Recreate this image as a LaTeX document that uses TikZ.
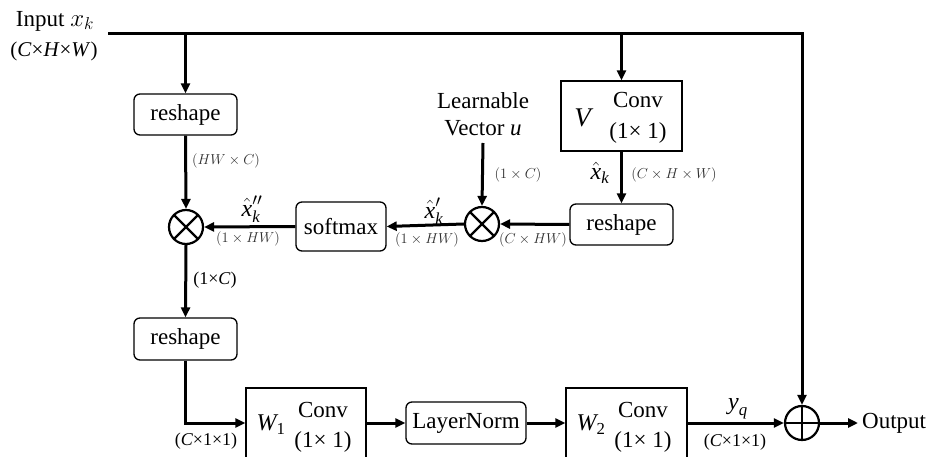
\documentclass[tikz,border=0pt]{standalone}
\usepackage{amsmath}
\usepackage{fontspec}
\setmainfont{Liberation Serif}
\usetikzlibrary{arrows.meta}
\newcommand\ti[1]{\text{\itshape #1}}
\tikzset{
  txt/.style={font=\fontsize{23}{27}\selectfont, inner sep=0pt},
  rbox/.style={draw, line width=1.3pt, rounded corners=6pt, inner sep=0pt, font=\fontsize{23}{27}\selectfont},
  sbox/.style={draw, line width=1.3pt, inner sep=0pt, minimum width=121pt, minimum height=70pt},
  gl/.style={font=\fontsize{14}{16}\selectfont, text=black!82, inner sep=0pt},
  bl/.style={font=\fontsize{18}{20}\selectfont, inner sep=0pt},
  ml/.style={font=\fontsize{24}{28}\selectfont, inner sep=0pt},
  otimes/.style={circle, draw, line width=2.2pt, minimum size=34pt, inner sep=0pt,
    path picture={\draw[line width=2.4pt] (path picture bounding box.north west)--(path picture bounding box.south east)
      (path picture bounding box.north east)--(path picture bounding box.south west);}},
  oplus/.style={circle, draw, line width=2.2pt, minimum size=34pt, inner sep=0pt,
    path picture={\draw[line width=2.4pt] (path picture bounding box.north)--(path picture bounding box.south)
      (path picture bounding box.east)--(path picture bounding box.west);}},
  conn/.style={line width=3pt, -{Triangle[length=10pt,width=9pt]}}
}
\begin{document}
\begin{tikzpicture}[x=1pt,y=-1pt]
\clip (0,0) rectangle (935,457);
\fill[white] (0,0) rectangle (935,457);

% input
\node[txt] (inlab) at (55,21) {Input $x_k$};
\node[bl, font=\fontsize{21}{23}\selectfont] (insz) at (54,51) {(\textit{C}×\textit{H}×\textit{W})};
\coordinate (in) at (108,34);

% nodes
\node[rbox, minimum width=103pt, minimum height=41pt] (r1) at (185.5,114.5) {reshape};
\node[sbox] (V) at (621.5,116) {};
\node[font=\fontsize{27}{30}\selectfont, inner sep=0pt] (Vl) at (584,118) {\textit{V}};
\node[txt] (Vc1) at (638,100) {Conv};
\node[txt] (Vc2) at (638,133) {(1× 1)};
\node[rbox, minimum width=103pt, minimum height=41pt] (r2) at (621.5,224.5) {reshape};
\node[otimes] (o2) at (482,224) {};
\node[rbox, minimum width=90pt, minimum height=49pt] (sm) at (341,226.5) {softmax};
\node[otimes] (o1) at (186,227) {};
\node[txt, align=center] (u) at (483,114) {Learnable\\Vector \textit{u}};
\coordinate (ubot) at (483,143);
\node[rbox, minimum width=103pt, minimum height=42pt] (r3) at (185.5,339) {reshape};
\node[sbox, minimum width=120pt] (W1) at (306,423) {};
\node[ml] (W1l) at (271,425) {$\ti{W}_{\text{1}}$};
\node[txt] (W1c1) at (323,410) {Conv};
\node[txt] (W1c2) at (323,442) {(1× 1)};
\node[rbox, minimum width=120pt, minimum height=42pt] (ln) at (466,423) {LayerNorm};
\node[sbox] (W2) at (626.5,423) {};
\node[ml] (W2l) at (591,425) {$\ti{W}_{\text{2}}$};
\node[txt] (W2c1) at (643,410) {Conv};
\node[txt] (W2c2) at (643,442) {(1× 1)};
\node[oplus] (pl) at (802,423) {};
\coordinate (outend) at (858,423);
\node[txt, anchor=west] (outlab) at (862,423) {Output};

% labels
\node[gl] at (226,161) {$(HW\times C)$};
\node[gl] at (518,175) {$(1\times C)$};
\node[ml] at (600,173) {$\hat{\ti{x}}_{\ti{k}}$};
\node[gl] at (674,175) {$(C\times H\times W)$};
\node[ml] at (434,211) {$\hat{\ti{x}}'_{\ti{k}}$};
\node[gl] at (427,240) {$(1\times HW)$};
\node[gl] at (533,240) {$(C\times HW)$};
\node[ml] at (252,209) {$\hat{\ti{x}}''_{\ti{k}}$};
\node[gl] at (248,239) {$(1\times HW)$};
\node[bl] at (215,280) {(1×\textit{C})};
\node[bl] at (206,441) {(\textit{C}×1×1)};
\node[ml] at (738,409) {$\ti{y}_{\ti{q}}$};
\node[bl] at (735,442) {(\textit{C}×1×1)};

% connectors
\draw[conn, line join=miter] (in) -| (pl.north);
\draw[conn] (r1 |- in) -- (r1.north);
\draw[conn] (V |- in) -- (V.north);
\draw[conn] (r1.south) -- (o1.north);
\draw[conn] (V.south) -- (r2.north);
\draw[conn] (r2.west) -- (o2.east);
\draw[conn] (ubot) -- (o2.north);
\draw[conn] (o2.west) -- (sm.east);
\draw[conn] (sm.west) -- (o1.east);
\draw[conn] (o1.south) -- (r3.north);
\draw[conn, line join=miter] (r3.south) |- (W1.west);
\draw[conn] (W1.east) -- (ln.west);
\draw[conn] (ln.east) -- (W2.west);
\draw[conn] (W2.east) -- (pl.west);
\draw[conn] (pl.east) -- (outend);
\end{tikzpicture}
\end{document}
